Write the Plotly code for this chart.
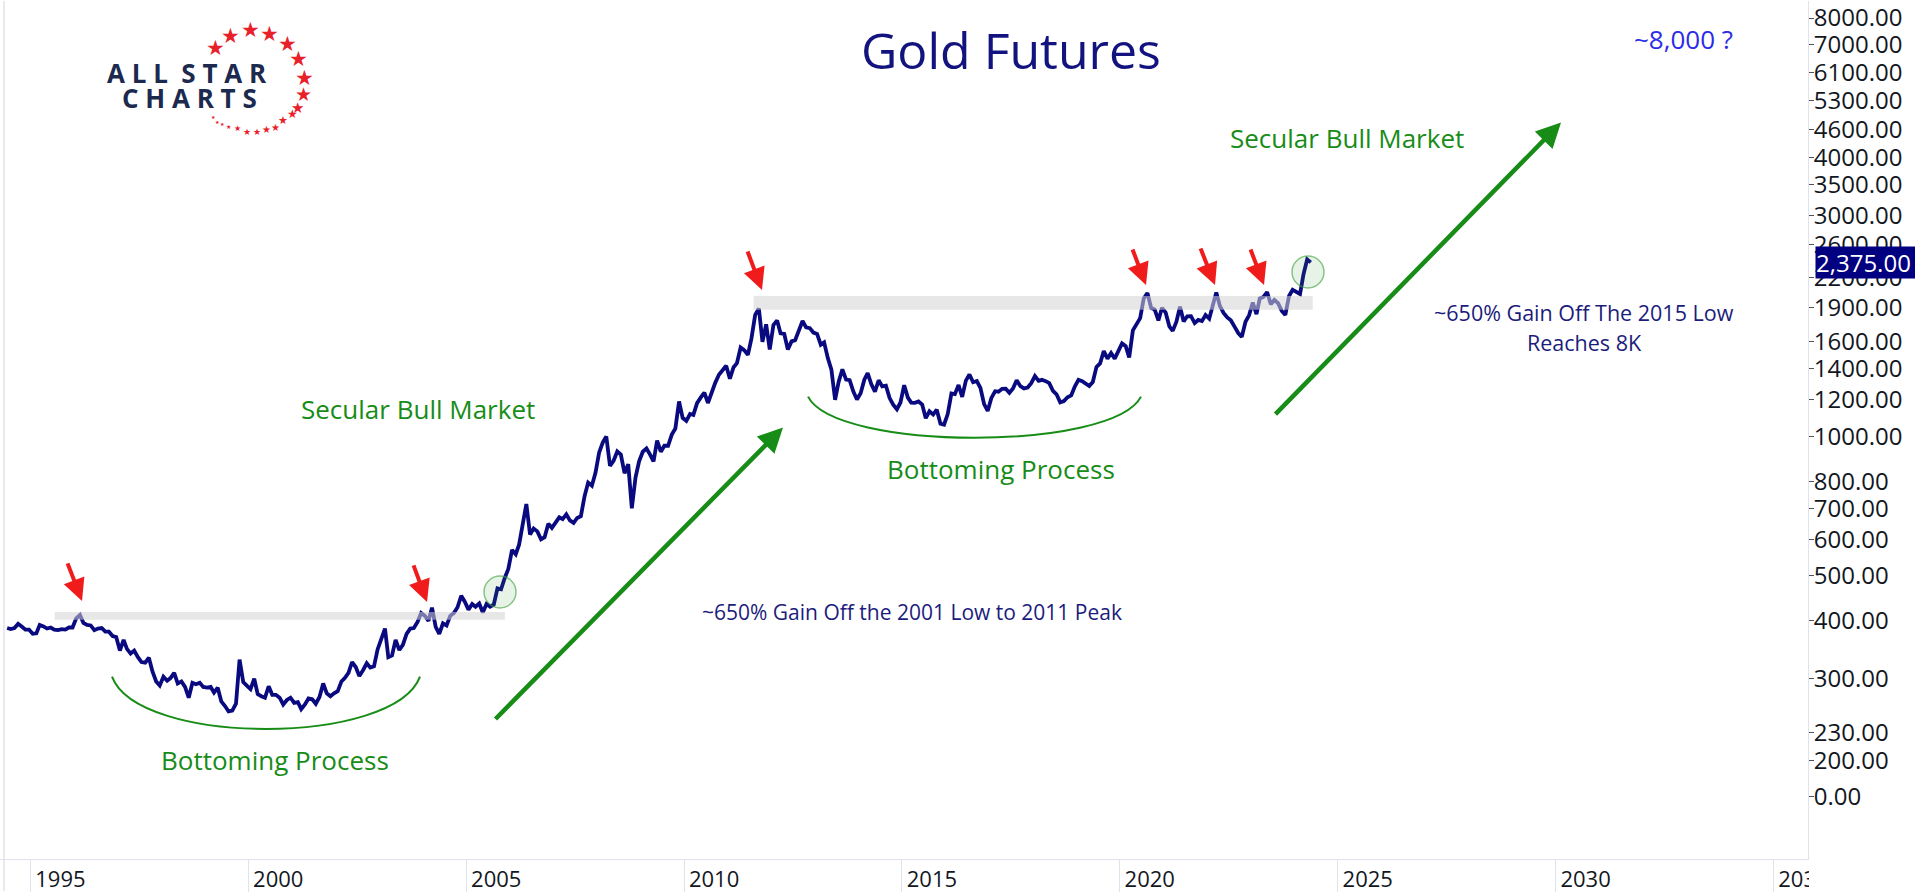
import math
import plotly.graph_objects as go

# ---------------- data (monthly) ----------------
p1994 = [386, 384, 386, 394, 389, 383, 383]                                  # Jun-Dec
p1995 = [375, 376, 392, 389, 385, 387, 383, 382, 384, 383, 387, 387]
p1996 = [405, 412, 396, 392, 391, 382, 385, 386, 379, 379, 371, 369]
p1997 = [345, 364, 348, 340, 345, 334, 326, 325, 333, 311, 296, 290]
p1998 = [303, 297, 301, 309, 293, 296, 288, 273, 294, 292, 294, 288]
p1999 = [287, 288, 280, 287, 268, 262, 255, 256, 265, 330, 295, 290]
p2000 = [285, 300, 278, 275, 273, 289, 277, 277, 273, 264, 270, 273]
p2001 = [266, 267, 258, 264, 272, 271, 265, 274, 293, 279, 275, 279]
p2002 = [282, 296, 301, 309, 326, 318, 304, 313, 324, 317, 319, 347]
p2003 = [368, 385, 334, 337, 364, 346, 355, 375, 385, 386, 398, 416]
p2004 = [410, 400, 427, 388, 375, 395, 391, 410, 416, 428, 453, 440]
p2005 = [423, 435, 429, 436, 417, 435, 429, 434, 470, 468, 495, 518]
p2006 = [569, 557, 584, 655, 715, 614, 633, 624, 600, 606, 648, 635]
p2007 = [652, 669, 663, 679, 659, 651, 667, 673, 743, 795, 783, 834]
p2008 = [923, 971, 1000, 864, 886, 928, 914, 833, 871, 700, 815, 884]
p2009 = [927, 942, 916, 883, 980, 927, 955, 955, 1009, 1040, 1190, 1097]
p2010 = [1081, 1118, 1113, 1180, 1213, 1244, 1181, 1248, 1307, 1359, 1386, 1421]
p2011 = [1333, 1411, 1439, 1556, 1536, 1500, 1628, 1830, 1890, 1600, 1746, 1540]
p2012 = [1740, 1780, 1669, 1664, 1540, 1604, 1614, 1692, 1775, 1720, 1713, 1676]
p2013 = [1664, 1578, 1596, 1476, 1393, 1200, 1313, 1396, 1327, 1323, 1250, 1202]
p2014 = [1240, 1326, 1370, 1296, 1250, 1322, 1282, 1287, 1210, 1171, 1145, 1184]
p2015 = [1290, 1213, 1183, 1182, 1190, 1172, 1095, 1133, 1115, 1142, 1065, 1060]
p2016 = [1118, 1238, 1234, 1291, 1217, 1320, 1360, 1309, 1317, 1273, 1174, 1135]
p2017 = [1211, 1252, 1249, 1267, 1268, 1242, 1269, 1322, 1284, 1270, 1275, 1303]
p2018 = [1350, 1318, 1325, 1316, 1303, 1254, 1233, 1185, 1192, 1215, 1226, 1282]
p2019 = [1325, 1316, 1298, 1285, 1311, 1413, 1437, 1529, 1472, 1514, 1472, 1523]
p2020 = [1588, 1566, 1480, 1694, 1751, 1800, 1986, 2040, 1895, 1879, 1780, 1895]
p2021 = [1850, 1728, 1690, 1768, 1905, 1771, 1817, 1818, 1757, 1784, 1774, 1829]
p2022 = [1796, 1909, 2045, 1911, 1848, 1807, 1782, 1726, 1672, 1640, 1768, 1826]
p2023 = [1945, 1836, 1986, 2000, 2050, 1929, 1970, 1940, 1866, 1830, 2010, 2072]
p2024 = [2054, 2030, 2238, 2410, 2375]                                       # Jan-May

series_by_year = [(1994, 6, p1994), (1995, 1, p1995), (1996, 1, p1996), (1997, 1, p1997),
                  (1998, 1, p1998), (1999, 1, p1999), (2000, 1, p2000), (2001, 1, p2001),
                  (2002, 1, p2002), (2003, 1, p2003), (2004, 1, p2004), (2005, 1, p2005),
                  (2006, 1, p2006), (2007, 1, p2007), (2008, 1, p2008), (2009, 1, p2009),
                  (2010, 1, p2010), (2011, 1, p2011), (2012, 1, p2012), (2013, 1, p2013),
                  (2014, 1, p2014), (2015, 1, p2015), (2016, 1, p2016), (2017, 1, p2017),
                  (2018, 1, p2018), (2019, 1, p2019), (2020, 1, p2020), (2021, 1, p2021),
                  (2022, 1, p2022), (2023, 1, p2023), (2024, 1, p2024)]

last_price = 2375.00

y_tickvals = [167.4, 200, 230, 300, 400, 500, 600, 700, 800, 1000, 1200, 1400, 1600,
              1900, 2200, 2600, 3000, 3500, 4000, 4600, 5300, 6100, 7000, 8000]
y_ticktext = ["0.00"] + [f"{v:.2f}" for v in y_tickvals[1:]]

x_tick_years = [1995, 2000, 2005, 2010, 2015, 2020, 2025, 2030, 2035]

# resistance bands (price levels) and their date spans
band_levels = [(402, 418), (1876, 2010)]
band_spans = [("1995-07-24", "2005-11-21"), ("2011-08-07", "2024-06-06")]

dates, prices = [], []
for yr, m0, vals in series_by_year:
    for i, v in enumerate(vals):
        dates.append(f"{yr}-{m0 + i:02d}-20")
        prices.append(v)

# ---------------- layout helpers ----------------
W, H = 1915, 893
PW, PH = 1808, 861


def px(x):
    return x / PW


def py(y):
    return 1 - y / PH


NAVY = "#0a0a80"
GREEN = "#178c17"
RED = "#f01c1c"
FONT = "Open Sans"

fig = go.Figure()
fig.add_trace(go.Scatter(x=dates, y=prices, mode="lines",
                         line=dict(color=NAVY, width=3.8), hoverinfo="skip"))

shapes = []
for (lo, hi), (d0, d1) in zip(band_levels, band_spans):
    shapes.append(dict(type="rect", xref="x", yref="y", x0=d0, x1=d1, y0=lo, y1=hi,
                       fillcolor="rgba(212,212,212,0.55)", line=dict(width=0), layer="above"))

# breakout circles
for cx, cy, r in [(500, 593, 16), (1308, 272, 16)]:
    shapes.append(dict(type="circle", xref="paper", yref="paper",
                       x0=px(cx - r), x1=px(cx + r), y0=py(cy + r), y1=py(cy - r),
                       line=dict(color="rgba(60,160,60,0.6)", width=1.5),
                       fillcolor="rgba(60,160,60,0.12)", layer="above"))

# bottoming arcs
for (x0, y0), (c1x, c1y), (c2x, c2y), (x1, y1) in [
        ((112, 678), (138, 748), (394, 748), (420, 678)),
        ((808, 397), (836, 452), (1113, 452), (1141, 397))]:
    path = (f"M {px(x0)},{py(y0)} C {px(c1x)},{py(c1y)} {px(c2x)},{py(c2y)} "
            f"{px(x1)},{py(y1)}")
    shapes.append(dict(type="path", xref="paper", yref="paper", path=path,
                       line=dict(color=GREEN, width=2), layer="above"))

# frame line & cover for the clipped last tick label
shapes.append(dict(type="line", xref="paper", yref="paper", x0=px(4), x1=px(4),
                   y0=py(893), y1=1, line=dict(color="#e0e3eb", width=1.5), layer="above"))
shapes.append(dict(type="rect", xref="paper", yref="paper", x0=px(1809), x1=px(1915),
                   y0=py(893), y1=py(862), fillcolor="white", line=dict(width=0), layer="above"))

annotations = []


def text(t, x, y, size, color, family=FONT):
    annotations.append(dict(text=t, xref="paper", yref="paper", x=px(x), y=py(y),
                            xanchor="center", yanchor="middle", showarrow=False,
                            font=dict(family=family, size=size, color=color)))


text("Gold Futures", 1011, 49, 50, "#13137f")
text("~8,000 ?", 1683, 38, 26, "#2b2be8")
text("Secular Bull Market", 1347, 137, 26, GREEN)
text("Secular Bull Market", 418, 409, 26, GREEN)
text("Bottoming Process", 275, 762, 26, GREEN)
text("Bottoming Process", 1001, 470, 26, GREEN)
text("~650% Gain Off the 2001 Low to 2011 Peak", 912, 613, 21, "#1c1c7c")
text("~650% Gain Off The 2015 Low", 1584, 313, 21.5, "#1c1c7c")
text("Reaches 8K", 1584, 343, 21.5, "#1c1c7c")

# logo
text("<b>A L L  S T A R</b>", 187, 72, 26, "#1b2a4e")
text("<b>C H A R T S</b>", 189, 97, 26, "#1b2a4e")
stars = [(215, 47, 21), (231, 35, 21), (250, 29, 21), (269, 33, 21), (287, 43, 21),
         (298, 58, 21), (304, 77, 21), (303, 93, 19), (297, 107, 15), (292, 113, 12),
         (283, 120, 11), (275, 127, 10), (266, 129, 10), (257, 131, 9), (247, 131, 9),
         (237, 128, 8), (228, 126, 6), (222, 123, 5), (217, 121, 5), (213, 116, 5)]
for sx, sy, ss in stars:
    text("★", sx, sy, ss, "#e8202a", family="DejaVu Sans")

# arrows (tail -> head, pixel positions)
red_arrows = [((67, 563), (82, 602)), ((413, 565), (427, 603)), ((747, 250), (762, 290)),
              ((1132, 248), (1146, 285)), ((1200, 247), (1215, 285)), ((1250, 248), (1264, 285))]
for (tx, ty), (hx, hy) in red_arrows:
    annotations.append(dict(text="", xref="paper", yref="paper", x=px(hx), y=py(hy),
                            ax=tx - hx, ay=ty - hy, axref="pixel", ayref="pixel",
                            showarrow=True, arrowhead=2, arrowsize=1.1, arrowwidth=4,
                            arrowcolor=RED, standoff=0))
green_arrows = [((494, 721), (783, 428)), ((1274, 415), (1561, 122))]
for (tx, ty), (hx, hy) in green_arrows:
    annotations.append(dict(text="", xref="paper", yref="paper", x=px(hx), y=py(hy),
                            ax=tx - hx, ay=ty - hy, axref="pixel", ayref="pixel",
                            showarrow=True, arrowhead=2, arrowsize=1.1, arrowwidth=4.5,
                            arrowcolor=GREEN, standoff=0))

# last price tag
annotations.append(dict(text=f"{last_price:,.2f}", xref="paper", yref="y",
                        x=px(1815), y=math.log10(last_price),
                        xanchor="left", yanchor="middle", showarrow=False,
                        bgcolor="#000080", width=104, height=31, align="left",
                        borderpad=0, font=dict(family=FONT, size=24, color="white")))

fig.update_layout(
    width=W, height=H, margin=dict(l=0, r=W - PW, t=0, b=H - PH),
    paper_bgcolor="white", plot_bgcolor="white", showlegend=False,
    shapes=shapes, annotations=annotations,
    xaxis=dict(type="date", range=["1994-04-21", "2035-10-18"],
               tickvals=[f"{y}-01-01" for y in x_tick_years],
               ticktext=[str(y) for y in x_tick_years],
               ticks="outside", ticklen=32, tickcolor="#e0e3eb", tickwidth=1,
               showgrid=False, zeroline=False, showline=True, linecolor="#e0e3eb",
               tickfont=dict(family="Liberation Sans Narrow, Open Sans", size=22,
                             color="#131722"),
               ticklabelshift=30, ticklabelstandoff=-31, ticklabeloverflow="allow",
               fixedrange=True),
    yaxis=dict(type="log", side="right", range=[2.0881, 3.9398],
               tickvals=y_tickvals, ticktext=y_ticktext,
               ticks="outside", ticklen=5, tickcolor="#50535e", tickwidth=1,
               showgrid=False, zeroline=False, showline=True, linecolor="#e0e3eb",
               tickfont=dict(family=FONT, size=24, color="#131722"),
               ticklabelstandoff=-5, ticklabeloverflow="allow", fixedrange=True),
)

fig.write_html("out.html", config={"displayModeBar": False},
               post_script="document.body.style.margin='0px';"
                           "document.body.style.overflow='hidden';")
